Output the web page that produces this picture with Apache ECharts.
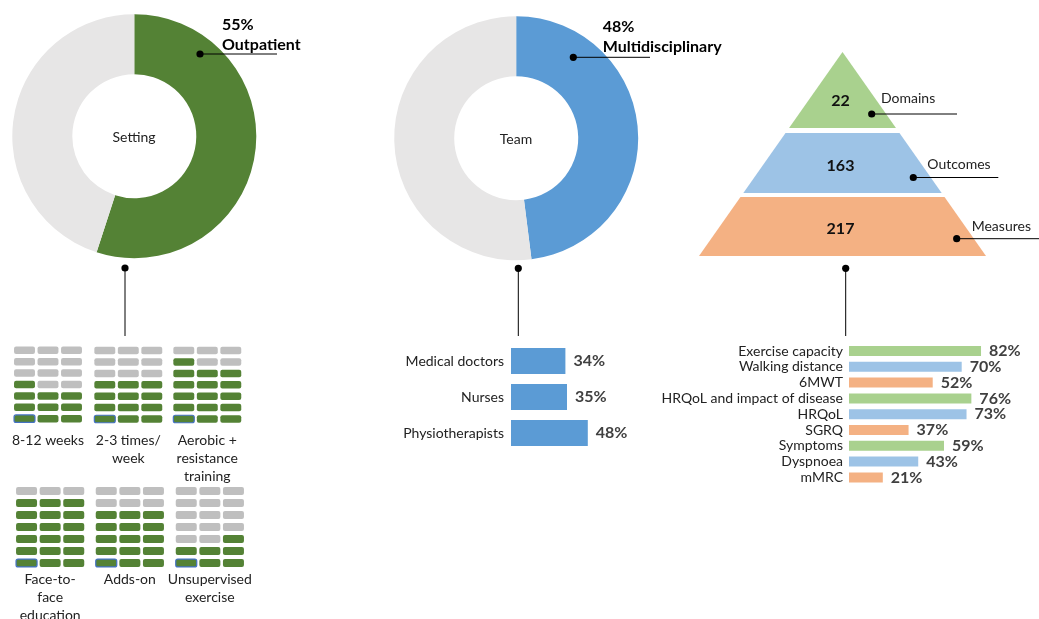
<!DOCTYPE html>
<html>
<head>
<meta charset="utf-8">
<script src="https://cdn.jsdelivr.net/npm/echarts@6/dist/echarts.min.js"></script>
<style>
  html, body { margin: 0; padding: 0; background: #fff; }
  #chart { width: 1039px; height: 619px; }
</style>
</head>
<body>
<div id="chart"></div>
<script>
// ---- data ----
const settingShare = [55, 45];          // outpatient vs other
const teamShare = [48, 52];             // multidisciplinary vs other

const teamRoles = ['Medical doctors', 'Nurses', 'Physiotherapists'];
const teamValues = [34, 35, 48];

const tierNames = ['Domains', 'Outcomes', 'Measures'];
const tierCounts = [22, 163, 217];

const outcomeNames = ['Exercise capacity', 'Walking distance', '6MWT',
  'HRQoL and impact of disease', 'HRQoL', 'SGRQ', 'Symptoms', 'Dyspnoea', 'mMRC'];
const outcomeValues = [82, 70, 52, 76, 73, 37, 59, 43, 21];

// programme components: filled cells out of 21 (3 x 7)
const waffleLabels = ['8-12 weeks', '2-3 times/\nweek', 'Aerobic +\nresistance\ntraining',
  'Face-to-\nface\neducation', 'Adds-on', 'Unsupervised\nexercise'];
const waffleFilled = [10, 12, 16, 18, 15, 7];
const partialRowFrom = ['left', 'left', 'left', 'left', 'left', 'right'];

// ---- styling / layout ----
const FONT = 'Lato';
const GREEN = '#548235', LIGHT = '#E7E6E6', BLUE = '#5B9BD5', CELL_GRAY = '#BFBFBF';
const tierColors = ['#A9D18E', '#9DC3E6', '#F4B183'];
// each tier: [top depth, bottom depth, label depth] as a fraction of the pyramid height
const tierBands = [[0, 0.3725, 0.24], [0.397, 0.691, 0.559], [0.711, 1, 0.868]];

const waffleBoxes = [
  { left: 12.75, top: 344.6, width: 70.5, height: 79.8 },
  { left: 93.05, top: 344.9, width: 70.5, height: 79.8 },
  { left: 172.05, top: 344.9, width: 70.5, height: 79.8 },
  { left: 14.75, top: 485, width: 70.8, height: 84 },
  { left: 94.45, top: 485, width: 70.8, height: 84 },
  { left: 174.45, top: 485, width: 70.8, height: 84 }
];
const waffleLabelTop = [431, 431, 431, 570, 570, 570];

function waffleCells(n, from) {
  const full = Math.floor(n / 3), rem = n % 3, cells = [];
  for (let r = 0; r < 7; r++) {
    for (let c = 0; c < 3; c++) {
      let on = r < full;
      if (r === full && rem > 0) on = from === 'left' ? c < rem : c >= 3 - rem;
      cells.push([c, r, on ? 1 : 0]);
    }
  }
  return cells;
}

const grids = [], xAxes = [], yAxes = [], series = [];

// team composition bars
grids.push({ left: 511, top: 343, width: 160, height: 108 });
xAxes.push({ gridIndex: 0, type: 'value', min: 0, max: 100, show: false });
yAxes.push({ gridIndex: 0, type: 'category', data: teamRoles, inverse: true,
  axisLine: { show: false }, axisTick: { show: false },
  axisLabel: { interval: 0, margin: 7, fontSize: 14, color: '#222', fontFamily: FONT } });
series.push({ type: 'bar', xAxisIndex: 0, yAxisIndex: 0, data: teamValues, barWidth: 26,
  silent: true, itemStyle: { color: BLUE },
  label: { show: true, position: 'right', distance: 8, formatter: '{c}%',
    fontSize: 16, fontWeight: 'bold', color: '#404040', fontFamily: FONT } });

// outcome reporting bars
grids.push({ left: 849, top: 343.1, width: 161, height: 142.2 });
xAxes.push({ gridIndex: 1, type: 'value', min: 0, max: 100, show: false });
yAxes.push({ gridIndex: 1, type: 'category', data: outcomeNames, inverse: true,
  axisLine: { show: false }, axisTick: { show: false },
  axisLabel: { interval: 0, margin: 6, fontSize: 14, color: '#222', fontFamily: FONT } });
series.push({ type: 'bar', xAxisIndex: 1, yAxisIndex: 1, data: outcomeValues, barWidth: 10,
  silent: true, itemStyle: { color: p => tierColors[p.dataIndex % 3] },
  label: { show: true, position: 'right', distance: 8, formatter: '{c}%',
    fontSize: 16, fontWeight: 'bold', color: '#404040', fontFamily: FONT } });

// pyramid of domains / outcomes / measures
grids.push({ left: 699, top: 52, width: 287, height: 204 });
xAxes.push({ gridIndex: 2, type: 'value', min: -1, max: 1, show: false });
yAxes.push({ gridIndex: 2, type: 'value', min: 0, max: 1, inverse: true, show: false });
series.push({
  type: 'custom', xAxisIndex: 2, yAxisIndex: 2, silent: true,
  data: tierCounts.map((v, i) => [i, v]),
  encode: { x: 0, y: 0 },
  renderItem(params, api) {
    const i = params.dataIndex;
    const [t0, t1, tl] = tierBands[i];
    const pts = [[-t0, t0], [t0, t0], [t1, t1], [-t1, t1]].map(p => api.coord(p));
    const lc = api.coord([0, tl]);
    return { type: 'group', children: [
      { type: 'polygon', shape: { points: pts }, style: { fill: tierColors[i] } },
      { type: 'text', x: lc[0] - 2, y: lc[1], style: { text: String(api.value(1)),
        font: 'bold 16px ' + FONT, fill: '#111', align: 'center', verticalAlign: 'middle' } }
    ] };
  }
});

// waffles
waffleFilled.forEach((n, k) => {
  const g = 3 + k;
  grids.push(waffleBoxes[k]);
  xAxes.push({ gridIndex: g, type: 'value', min: -0.5, max: 2.5, show: false });
  yAxes.push({ gridIndex: g, type: 'value', min: -0.5, max: 6.5, show: false });
  series.push({
    type: 'custom', xAxisIndex: g, yAxisIndex: g, silent: true,
    data: waffleCells(n, partialRowFrom[k]),
    encode: { x: 0, y: 1 },
    renderItem(params, api) {
      const c = api.coord([api.value(0), api.value(1)]);
      const s = api.size([1, 1]);
      const w = s[0] * 0.89, h = s[1] * 0.66;
      const on = api.value(2) === 1;
      const anchor = api.value(0) === 0 && api.value(1) === 0;
      return { type: 'rect', shape: { x: c[0] - w / 2, y: c[1] - h / 2, width: w, height: h, r: 2 },
        style: { fill: on ? GREEN : CELL_GRAY, stroke: anchor ? '#4472C4' : null, lineWidth: anchor ? 1.2 : 0 } };
    }
  });
});

// donuts
function donut(center, values, color) {
  return { type: 'pie', center, radius: [62, 122], startAngle: 90, clockwise: true, silent: true,
    label: { show: false }, labelLine: { show: false },
    itemStyle: { borderWidth: 0 },
    data: [{ value: values[0], itemStyle: { color } }, { value: values[1], itemStyle: { color: LIGHT } }] };
}
series.push(donut([134.3, 136.2], settingShare, GREEN));
series.push(donut([516.2, 138.2], teamShare, BLUE));

// ---- annotations ----
const ann = [];
function dot(x, y) { ann.push({ type: 'circle', shape: { cx: x, cy: y, r: 3.6 }, style: { fill: '#000' }, z: 10 }); }
function line(x1, y1, x2, y2) { ann.push({ type: 'line', shape: { x1, y1, x2, y2 }, style: { stroke: '#000', lineWidth: 1 }, z: 10 }); }
function text(x, y, s, font, align, extra) {
  ann.push(Object.assign({ type: 'text', x, y, z: 10, style: Object.assign({ text: s, font, fill: '#222',
    align: align || 'left', verticalAlign: 'middle' }, extra || {}) }));
}

text(134, 137, 'Setting', '14px ' + FONT, 'center');
text(516, 139.5, 'Team', '14px ' + FONT, 'center');

dot(200, 54); line(200, 54, 277, 54);
text(222, 34.5, settingShare[0] + '%\nOutpatient', 'bold 16px ' + FONT, 'left', { fill: '#000', lineHeight: 20 });
dot(573.3, 57.3); line(573.3, 57.3, 650, 57.3);
text(602.7, 36.5, teamShare[0] + '%\nMultidisciplinary', 'bold 16px ' + FONT, 'left', { fill: '#000', lineHeight: 20 });

dot(125, 268); line(125, 268, 125, 336);
dot(518.3, 268.3); line(518.3, 268.3, 518.3, 336);
dot(845.7, 268.3); line(845.7, 268.3, 845.7, 336);

const tierAnn = [[881, 98.3, 871.7, 114, 957], [927.3, 164, 913.3, 177.5, 998.3], [971.7, 226.7, 956.7, 238.7, 1039]];
tierAnn.forEach((a, i) => {
  text(a[0], a[1], tierNames[i], '14px ' + FONT, 'left');
  dot(a[2], a[3]); line(a[2], a[3], a[4], a[3]);
});

waffleLabels.forEach((s, k) => {
  const b = waffleBoxes[k];
  ann.push({ type: 'text', x: b.left + b.width / 2, y: waffleLabelTop[k], z: 10,
    style: { text: s, font: '14px ' + FONT, fill: '#222', align: 'center', verticalAlign: 'top', lineHeight: 18 } });
});

const chart = echarts.init(document.getElementById('chart'), null, { renderer: 'canvas' });
chart.setOption({
  animation: false,
  backgroundColor: '#fff',
  textStyle: { fontFamily: FONT },
  grid: grids, xAxis: xAxes, yAxis: yAxes, series,
  graphic: { elements: ann }
});
</script>
</body>
</html>
